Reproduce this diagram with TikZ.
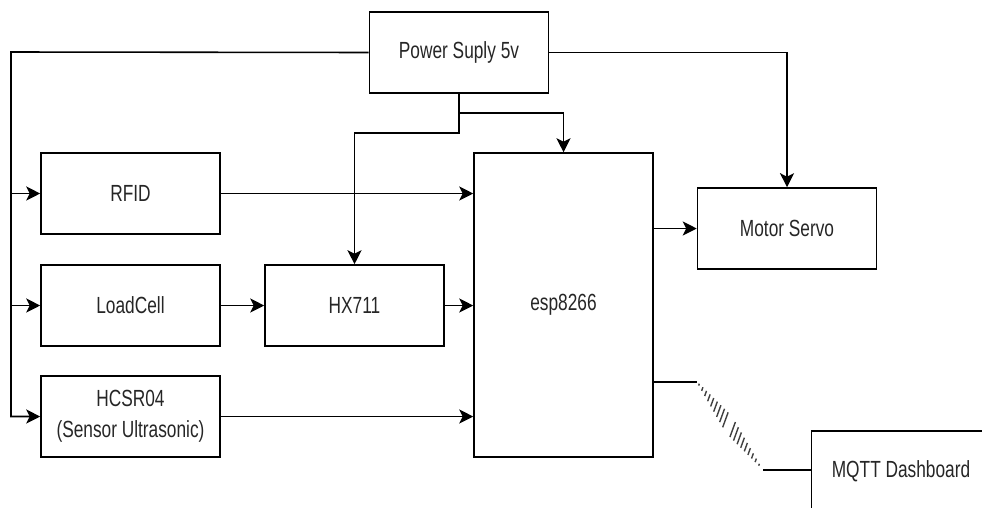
\documentclass[tikz,border=0pt]{standalone}
\usepackage{fontspec}
\setmainfont[FakeStretch=0.74]{Liberation Sans}
\usetikzlibrary{arrows.meta,calc}
\tikzset{
  block/.style={draw, line width=0.9pt, minimum width=3.58cm, minimum height=1.62cm,
    inner sep=0pt, align=center, font=\fontsize{13.3}{17.5}\selectfont, text=black!85},
  wire/.style={line width=0.9pt},
  arr/.style={wire, -{Stealth[length=8pt,width=8pt,inset=2pt]}},
  hatch/.style={line width=0.8pt, black!75},
}
\begin{document}
\begin{tikzpicture}[x=0.02cm, y=-0.02cm]
        \useasboundingbox (0,0) rectangle (982,507);
        \clip (0,0) rectangle (982,507);
        % Blocks
        \node[block] (power) at (459,52.5) {Power Suply 5v};
        \node[block] (rfid) at (130.5,193.5) {RFID};
        \node[block] (load) at (130.5,305.5) {LoadCell};
        \node[block] (hcsr) at (130.5,416.5) {HCSR04\\(Sensor Ultrasonic)};
        \node[block] (hx) at (354.5,305.5) {HX711};
        \node[block, minimum height=6.08cm] (esp) at (563.5,305) {esp8266};
        \node[block] (servo) at (787,228.5) {Motor Servo};
        \node[block] (mqtt) at (901,471.5) {MQTT Dashboard};

        % Power lines
        \coordinate (bus) at (11,52); \coordinate (split) at (459,113);
        \draw[arr] (power.west) -- (bus) |- (hcsr.west);
        \draw[arr] (bus |- rfid.west) -- (rfid.west);
        \draw[arr] (bus |- load.west) -- (load.west);
        \draw[arr] (power.east) -| (servo.north);
        \draw[wire] (power.south) -- (split);
        \draw[arr] (split) -| (esp.north);
        \draw[arr] (split) -- ++(0,20) -| (hx.north);

        % Signal lines
        \draw[arr] (rfid.east) -- (rfid.east -| esp.west);
        \draw[arr] (load.east) -- (hx.west);
        \draw[arr] (hx.east) -- (hx.east -| esp.west);
        \draw[arr] (hcsr.east) -- (hcsr.east -| esp.west);
        \draw[arr] (servo.west -| esp.east) -- (servo.west);

        % Wireless link to dashboard
        \coordinate (wa) at (697,382); \coordinate (wb) at (763,470);
        \draw[wire] (esp.east |- wa) -- (wa);
        \draw[wire] (wb) -- (wb -| mqtt.west);
        \foreach \i in {0,...,8}{
          \pgfmathsetmacro{\t}{0.03+0.05*\i}
          \pgfmathsetmacro{\l}{1+7*\i/8}
          \draw[hatch] ($(wa)!\t!(wb)+(0.342*\l,-0.940*\l)$)
            -- ($(wa)!\t!(wb)+(-0.342*\l,0.940*\l)$);
          \pgfmathsetmacro{\t}{0.54+0.05*\i}
          \pgfmathsetmacro{\l}{8-7*\i/8}
          \draw[hatch] ($(wa)!\t!(wb)+(0.342*\l,-0.940*\l)$)
            -- ($(wa)!\t!(wb)+(-0.342*\l,0.940*\l)$);
        }
\end{tikzpicture}
\end{document}
